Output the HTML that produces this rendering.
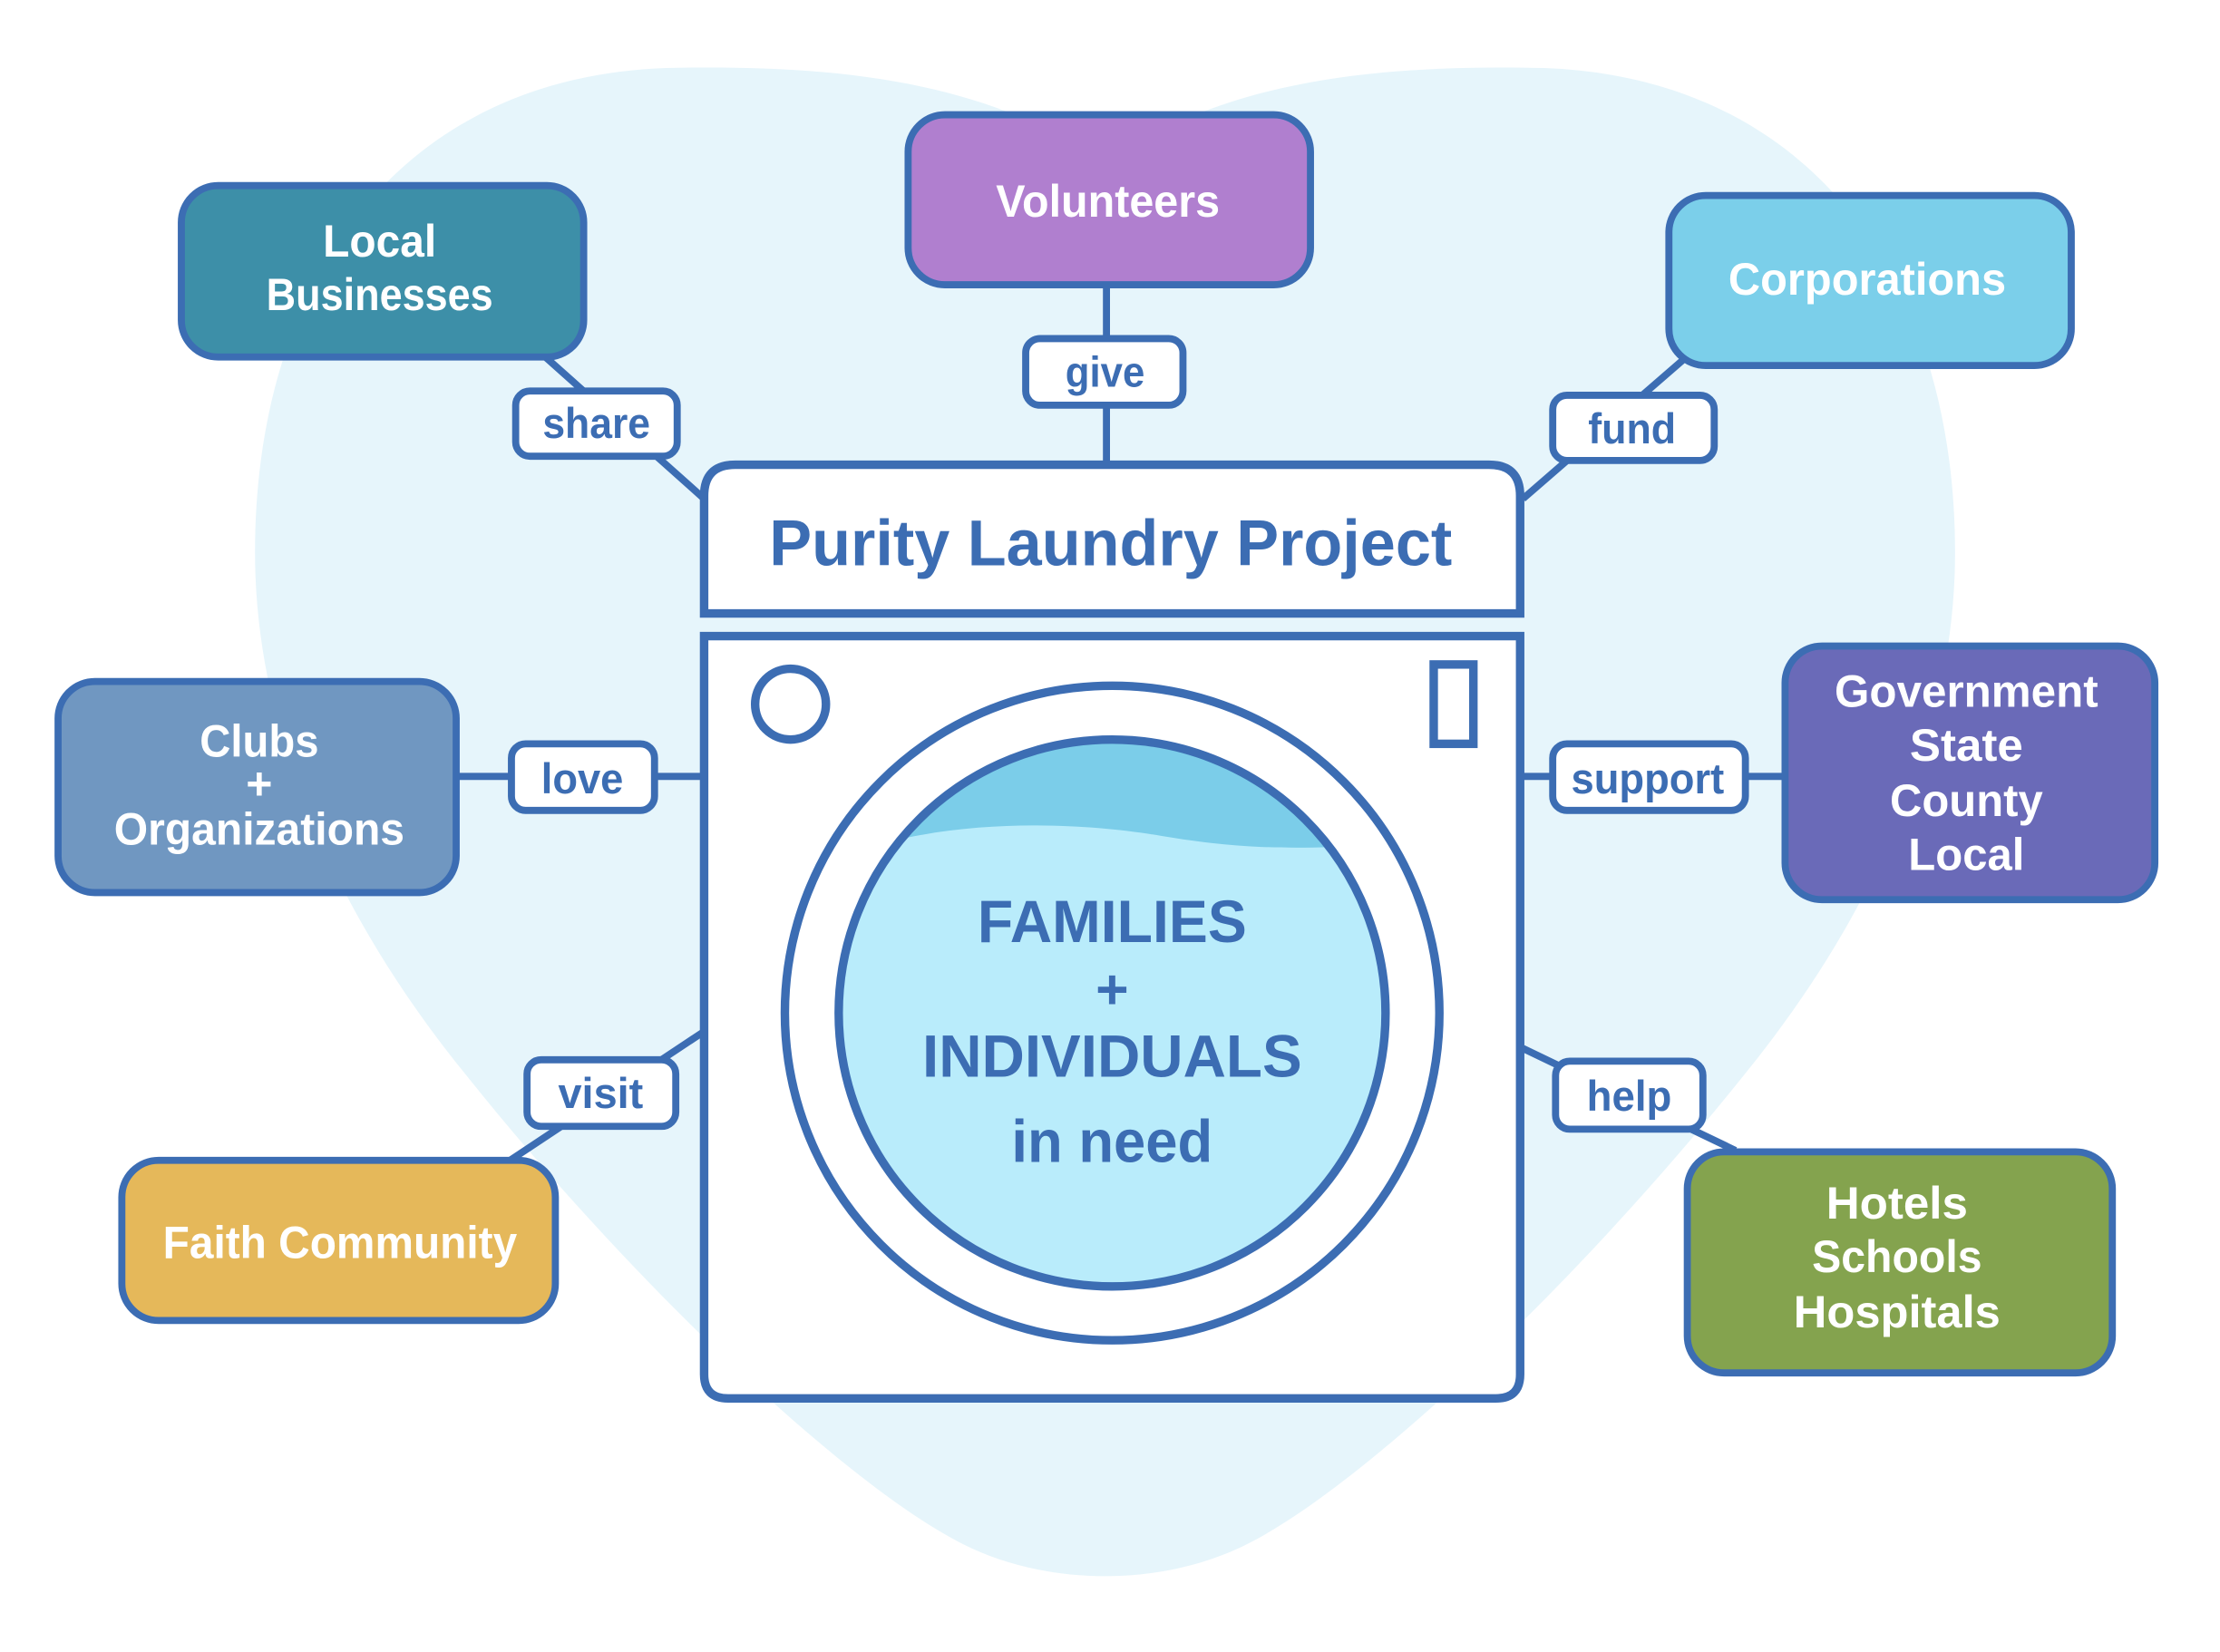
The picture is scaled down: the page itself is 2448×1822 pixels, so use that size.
<!DOCTYPE html>
<html><head><meta charset="utf-8"><style>
html,body{margin:0;padding:0;background:#fff}
svg{display:block}
text{font-family:"Liberation Sans Narrow","Liberation Sans",sans-serif;font-weight:bold;text-anchor:middle}
</style></head><body>
<svg width="2448" height="1822" viewBox="0 0 1567 1166" preserveAspectRatio="none" xmlns="http://www.w3.org/2000/svg">
<path d="M780,115 C700,60 600,45 470,48 C280,55 180,200 180,390 C180,520 240,650 330,760 C450,910 600,1050 680,1090 C740,1120 820,1120 880,1090 C960,1050 1110,910 1230,760 C1320,650 1380,520 1380,390 C1380,200 1280,55 1090,48 C960,45 860,60 780,115 Z" fill="#e6f5fb"/>
<g stroke="#3c6db3" stroke-width="5" fill="none">
<line x1="385" y1="252" x2="497" y2="352"/>
<line x1="781" y1="201" x2="781" y2="328"/>
<line x1="1188" y1="254" x2="1075" y2="352"/>
<line x1="322" y1="548" x2="497" y2="548"/>
<line x1="1073" y1="548" x2="1260" y2="548"/>
<line x1="360" y1="819" x2="497" y2="728"/>
<line x1="1075" y1="740" x2="1225" y2="812"/>
</g>
<g stroke="#3c6db3" stroke-width="5">
<rect x="128" y="131" width="284" height="121" rx="26" fill="#3d8fa8"/>
<rect x="641" y="81" width="284" height="120" rx="26" fill="#b07fcf"/>
<rect x="1178" y="138" width="284" height="120" rx="26" fill="#7bcfea"/>
<rect x="41" y="481" width="281" height="149" rx="26" fill="#7097c1"/>
<rect x="1260" y="456" width="261" height="179" rx="26" fill="#6a6ab8"/>
<rect x="86" y="819" width="306" height="113" rx="26" fill="#e5b85a"/>
<rect x="1191" y="813" width="300" height="156" rx="26" fill="#84a34e"/>
<path d="M497,433 L497,350 Q497,328 519,328 L1051,328 Q1073,328 1073,350 L1073,433 Z" fill="#fff" stroke-width="6"/>
<path d="M497,449 L1073,449 L1073,970 Q1073,987 1056,987 L514,987 Q497,987 497,970 Z" fill="#fff" stroke-width="6"/>
<circle cx="785" cy="715" r="231" fill="#fff" stroke-width="6"/>
<circle cx="558" cy="497" r="25" fill="#fff" stroke-width="6"/>
<rect x="1012" y="469" width="28" height="56" fill="#fff" stroke-width="6"/>
</g>
<clipPath id="c"><circle cx="785" cy="715" r="193"/></clipPath>
<circle cx="785" cy="715" r="193" fill="#b9ecfb"/>
<path clip-path="url(#c)" d="M580,610 C660,575 760,580 820,590 C880,600 920,600 990,595 L990,500 L580,500 Z" fill="#7bcde9"/>
<circle cx="785" cy="715" r="193" fill="none" stroke="#3c6db3" stroke-width="6"/>
<g stroke="#3c6db3" stroke-width="5" fill="#fff">
<rect x="364" y="276" width="114" height="46" rx="10"/>
<rect x="724" y="239" width="111" height="47" rx="10"/>
<rect x="1096" y="279" width="114" height="46" rx="10"/>
<rect x="361" y="525" width="101" height="47" rx="10"/>
<rect x="1096" y="525" width="136" height="47" rx="10"/>
<rect x="372" y="748" width="105" height="47" rx="10"/>
<rect x="1098" y="749" width="104" height="48" rx="10"/>
</g>
<g fill="#3c6db3" font-size="30">
<text x="421" y="309" textLength="76" lengthAdjust="spacingAndGlyphs">share</text>
<text x="780" y="273" textLength="56" lengthAdjust="spacingAndGlyphs">give</text>
<text x="1152" y="313" textLength="62" lengthAdjust="spacingAndGlyphs">fund</text>
<text x="411" y="560" textLength="58" lengthAdjust="spacingAndGlyphs">love</text>
<text x="1163" y="560" textLength="108" lengthAdjust="spacingAndGlyphs">support</text>
<text x="424" y="782" textLength="60" lengthAdjust="spacingAndGlyphs">visit</text>
<text x="1150" y="784" textLength="60" lengthAdjust="spacingAndGlyphs">help</text>
<text x="784" y="399" font-size="46" textLength="482" lengthAdjust="spacingAndGlyphs">Purity Laundry Project</text>
<text x="785" y="665" font-size="42" textLength="190" lengthAdjust="spacingAndGlyphs">FAMILIES</text>
<text x="785" y="712" font-size="40">+</text>
<text x="785" y="760" font-size="42" textLength="268" lengthAdjust="spacingAndGlyphs">INDIVIDUALS</text>
<text x="785" y="820" font-size="42" textLength="142" lengthAdjust="spacingAndGlyphs">in need</text>
</g>
<g fill="#fff" font-size="32">
<text x="268" y="181" textLength="80" lengthAdjust="spacingAndGlyphs">Local</text>
<text x="268" y="219" textLength="160" lengthAdjust="spacingAndGlyphs">Businesses</text>
<text x="782" y="153" textLength="158" lengthAdjust="spacingAndGlyphs">Volunteers</text>
<text x="1318" y="208" textLength="196" lengthAdjust="spacingAndGlyphs">Corporations</text>
<text x="183" y="534" textLength="84" lengthAdjust="spacingAndGlyphs">Clubs</text>
<text x="183" y="564">+</text>
<text x="183" y="596" textLength="205" lengthAdjust="spacingAndGlyphs">Organizations</text>
<text x="1388" y="499" textLength="186" lengthAdjust="spacingAndGlyphs">Government</text>
<text x="1388" y="537" textLength="80" lengthAdjust="spacingAndGlyphs">State</text>
<text x="1388" y="576" textLength="108" lengthAdjust="spacingAndGlyphs">County</text>
<text x="1388" y="614" textLength="82" lengthAdjust="spacingAndGlyphs">Local</text>
<text x="240" y="888" textLength="250" lengthAdjust="spacingAndGlyphs">Faith Community</text>
<text x="1339" y="860" textLength="100" lengthAdjust="spacingAndGlyphs">Hotels</text>
<text x="1339" y="898" textLength="120" lengthAdjust="spacingAndGlyphs">Schools</text>
<text x="1339" y="937" textLength="146" lengthAdjust="spacingAndGlyphs">Hospitals</text>
</g>
</svg>
</body></html>
